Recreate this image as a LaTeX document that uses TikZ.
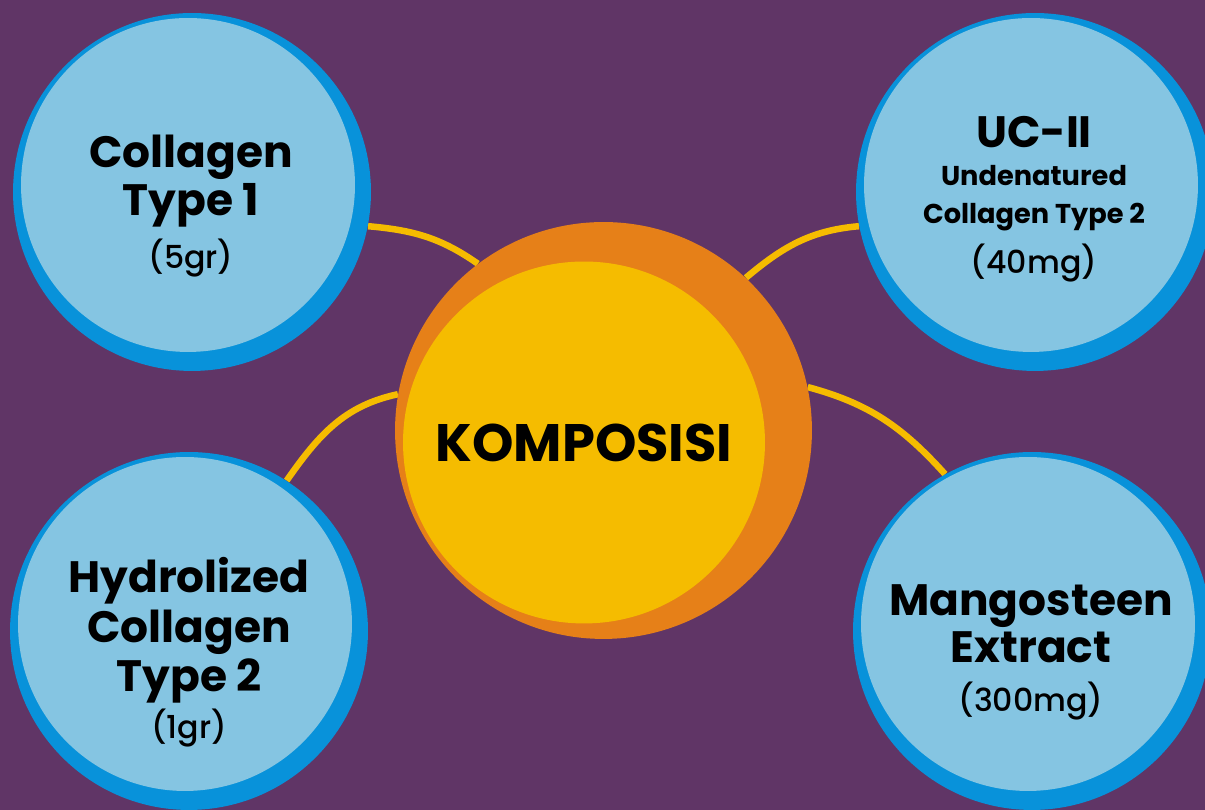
\documentclass[tikz,border=0pt]{standalone}
\usepackage{fontspec}
\setmainfont{Poppins}
\newfontfamily\popmed{Poppins Medium}
\usepackage{tikz}
\definecolor{bgpurple}{RGB}{96,53,102}
\definecolor{ringblue}{RGB}{8,146,218}
\definecolor{skyfill}{RGB}{133,197,226}
\definecolor{coreorange}{RGB}{230,128,24}
\definecolor{coreyellow}{RGB}{245,188,0}
\pgfdeclarelayer{bg}
\pgfdeclarelayer{links}
\pgfsetlayers{bg,links,main}
\newcommand{\bigb}{\fontsize{25}{27.2}\selectfont\bfseries}
\newcommand{\midb}{\fontsize{15.5}{22}\selectfont\bfseries}
\newcommand{\regtxt}{\fontsize{18}{27.2}\selectfont\popmed\mdseries}

\begin{document}
\begin{tikzpicture}[x=0.02cm, y=0.02cm,
  ring/.style={circle, fill=ringblue, minimum size=7.16cm, inner sep=0pt,
    path picture={\fill[skyfill] ([shift={(-0.08cm,0.14cm)}]path picture bounding box.center) circle (3.34cm);}},
  core/.style={circle, fill=coreorange, minimum size=8.34cm, inner sep=0pt,
    path picture={\fill[coreyellow] ([shift={(-0.39cm,-0.24cm)}]path picture bounding box.center) circle (3.62cm);}},
  link/.style={draw=coreyellow, line width=0.13cm},
  txt/.style={align=center, inner sep=0pt, anchor=north, text=black, font=\bigb}
]
\useasboundingbox (0,0) rectangle (1205,810);
\begin{pgfonlayer}{bg}
\fill[bgpurple] (0,0) rectangle (1205,810);
\end{pgfonlayer}

% ingredient circles
\node[ring] (tl) at (192,618) {};
\node[ring] (tr) at (1035,618) {};
\node[ring] (bl) at (189,179) {};
\node[ring] (br) at (1032,179) {};
\node[core] (mid) at (603.5,379.5) {};

\node[txt] (tltext) at (191,675) {Collagen\\Type 1\\[2.8pt]{\regtxt (5gr)}};
\node[txt, font=\midb] (trtext) at (1034,694) {{\bigb UC-II}\\[-0.5pt]Undenatured\\Collagen Type 2\\[6pt]{\regtxt (40mg)}};
\node[txt] (bltext) at (189,253) {Hydrolized\\[1.1pt]Collagen\\[1.1pt]Type 2\\[-0.6pt]{\regtxt (1gr)}};
\node[txt] (brtext) at (1031,226) {Mangosteen\\Extract\\[0.6pt]{\regtxt (300mg)}};
\node[text=black, font=\fontsize{30}{32}\selectfont\bfseries] (midtext) at (584,367.5) {KOMPOSISI};

% yellow links behind the circles
\begin{pgfonlayer}{links}
\draw[link] (tl.-11) to[out=-5, in=145] (mid.127);
\draw[link] (mid.47) to[out=40, in=185] (tr.191);
\draw[link] (bl.57) to[out=55, in=192] (mid.170);
\draw[link] (mid.12) to[out=-15, in=132] (br.119);
\end{pgfonlayer}
\end{tikzpicture}
\end{document}
